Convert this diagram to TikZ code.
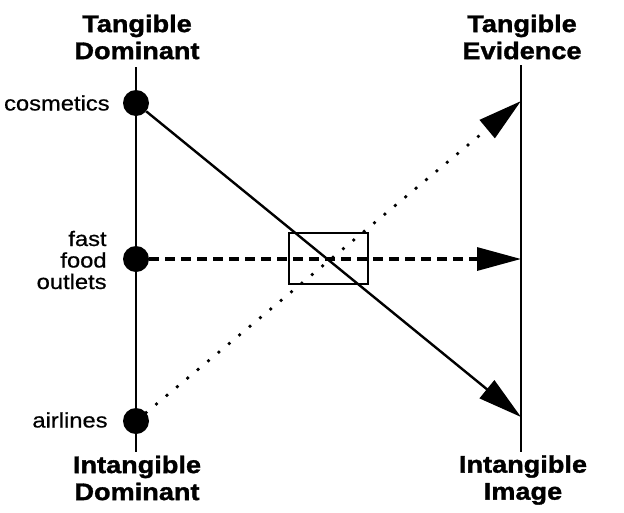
\documentclass[tikz,border=0pt]{standalone}
\usepackage{fontspec}
\setmainfont{Liberation Sans}[FakeStretch=1.13, UprightFeatures={FakeBold=0.6}, BoldFeatures={FakeBold=1.4}]
\usetikzlibrary{arrows.meta, positioning}

\begin{document}
\begin{tikzpicture}[x=1pt, y=-1pt,
    title/.style={font=\bfseries\fontsize{24}{27}\selectfont, align=center, inner sep=0pt},
    lbl/.style={font=\fontsize{21}{21.5}\selectfont, align=right, inner sep=0pt},
    dot/.style={circle, fill=black, minimum size=26pt, inner sep=0pt},
    axis/.style={line width=2.4pt},
    tip/.style={-{Triangle[length=44pt, width=23pt]}},
    solidarrow/.style={tip, line width=2.4pt},
    dashedarrow/.style={tip, line width=3.2pt, dash pattern=on 10pt off 6pt},
    dottedarrow/.style={tip, line width=3.8pt, line cap=round, dash pattern=on 0pt off 13.5pt}]
                \useasboundingbox (0,0) rectangle (624,512);
                % Ejes verticales
                \coordinate (ltop) at (136,67);
                \coordinate (lbot) at (136,452);
                \coordinate (rtop) at (521,65);
                \coordinate (rbot) at (521,452);
                \draw[axis] (ltop) -- (lbot);
                \draw[axis] (rtop) -- (rbot);
                
                % Titulos
                \node[title] (tdom) at (137,37) {Tangible\\Dominant};
                \node[title] (tevi) at (522,37) {Tangible\\Evidence};
                \node[title] (idom) at (137,478) {Intangible\\Dominant};
                \node[title] (iimg) at (523,480) {Intangible\\Image};
                
                % Puntos y etiquetas
                \node[dot] (cos) at (136,103) {};
                \node[dot] (ffo) at (136,259) {};
                \node[dot] (air) at (136,421) {};
                \node[lbl, left=13pt of cos] (coslbl) {cosmetics};
                \node[lbl, left=16pt of ffo, yshift=-1pt] (ffolbl) {fast\\food\\outlets};
                \node[lbl, left=15pt of air, yshift=1pt] (airlbl) {airlines};
                
                % Destinos en el eje derecho
                \coordinate (evi) at (521,101);
                \coordinate (mid) at (521,259);
                \coordinate (img) at (521,417);
                
                % Flechas
                \draw[solidarrow] (cos) -- (img);
                \draw[dashedarrow] (ffo) -- (mid);
                \draw[dottedarrow] (air) -- (evi);
                
                % Recuadro del cruce
                \node[draw, line width=1.8pt, minimum width=79pt, minimum height=51pt, inner sep=0pt] (cross) at (328.5,258.5) {};
\end{tikzpicture}
\end{document}
